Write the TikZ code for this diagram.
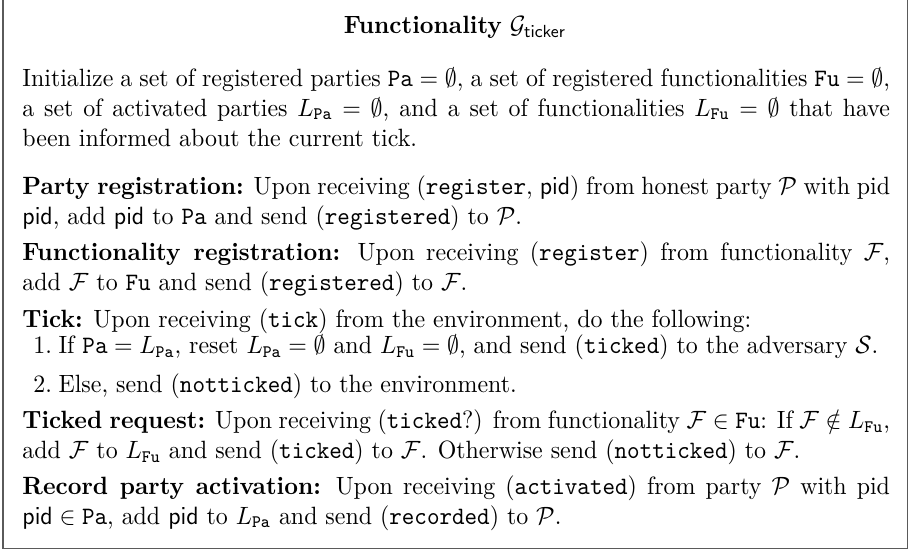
\documentclass[tikz,border=0pt]{standalone}
\usepackage{amsmath,amssymb}
\usepackage{xcolor}
\usetikzlibrary{positioning}
\definecolor{frameclr}{RGB}{90,90,90}
\newcommand{\Pa}{\mathtt{Pa}}
\newcommand{\Fu}{\mathtt{Fu}}
\newcommand{\pidv}{\mathsf{pid}}
% one justified line of the box
\newcommand{\fullline}[1]{\makebox[363pt][s]{#1}}
\tikzset{
  para/.style={text width=363pt,align=justify,inner sep=0pt,anchor=base west},
  itemlbl/.style={inner sep=0pt,anchor=base west},
  frameline/.style={draw=frameclr,line width=0.6pt},
}

\begin{document}
\begin{tikzpicture}
\useasboundingbox (0,0) rectangle (365.6pt,-220pt);
\coordinate (tl) at (1.1pt,0);
\coordinate (bl) at (1.1pt,-219.4pt);
\coordinate (br) at (363pt,-219.4pt);
\coordinate (tr) at (363pt,0);

\begin{scope}[xscale=0.956,every node/.append style={transform shape}]
\node[inner sep=0pt,anchor=base] (title) at (190.4pt,-13.4pt)
      {\textbf{Functionality} $\mathcal{G}_{\mathsf{ticker}}$};

\node[para] (init) at (9.2pt,-34.4pt)
      {\fullline{Initialize a set of registered parties $\Pa=\emptyset$, a set of registered functionalities $\Fu=\emptyset$,}\\
       \fullline{a set of activated parties $L_{\Pa}=\emptyset$, and a set of functionalities $L_{\Fu}=\emptyset$ that have}\\
       been informed about the current tick.};
\node[para] (partyreg) at (9.2pt,-77.6pt)
      {\fullline{\textbf{Party registration:} Upon receiving (\texttt{register}, $\pidv$) from honest party $\mathcal{P}$ with pid}\\
       $\pidv$, add $\pidv$ to $\Pa$ and send (\texttt{registered}) to $\mathcal{P}$.};
\node[para] (funcreg) at (9.2pt,-104pt)
      {\fullline{\textbf{Functionality registration:} Upon receiving (\texttt{register}) from functionality $\mathcal{F}$,}\\
       add $\mathcal{F}$ to $\Fu$ and send (\texttt{registered}) to $\mathcal{F}$.};
\node[para] (tick) at (9.2pt,-130.8pt)
      {\textbf{Tick:} Upon receiving (\texttt{tick}) from the environment, do the following:};
\node[itemlbl] (n1) at (13.8pt,-141.4pt) {1.};
\node[itemlbl] (item1) at (24.3pt,-141.4pt)
      {If $\Pa=L_{\Pa}$, reset $L_{\Pa}=\emptyset$ and $L_{\Fu}=\emptyset$, and send (\texttt{ticked}) to the adversary $\mathcal{S}$.};
\node[itemlbl] (n2) at (13.8pt,-157pt) {2.};
\node[itemlbl] (item2) at (24.3pt,-157pt)
      {Else, send (\texttt{notticked}) to the environment.};
\node[para] (tickreq) at (9.2pt,-171.4pt)
      {\fullline{\textbf{Ticked request:} Upon receiving (\texttt{ticked}?) from functionality $\mathcal{F}\in\Fu$: If $\mathcal{F}\notin L_{\Fu}$,}\\
       add $\mathcal{F}$ to $L_{\Fu}$ and send (\texttt{ticked}) to $\mathcal{F}$. Otherwise send (\texttt{notticked}) to $\mathcal{F}$.};
\node[para] (record) at (9.2pt,-197.6pt)
      {\fullline{\textbf{Record party activation:} Upon receiving (\texttt{activated}) from party $\mathcal{P}$ with pid}\\
       $\pidv\in\Pa$, add $\pidv$ to $L_{\Pa}$ and send (\texttt{recorded}) to $\mathcal{P}$.};
\end{scope}

\draw[frameline] (tl) -- (bl) -- (br) -- (tr);
\end{tikzpicture}
\end{document}
